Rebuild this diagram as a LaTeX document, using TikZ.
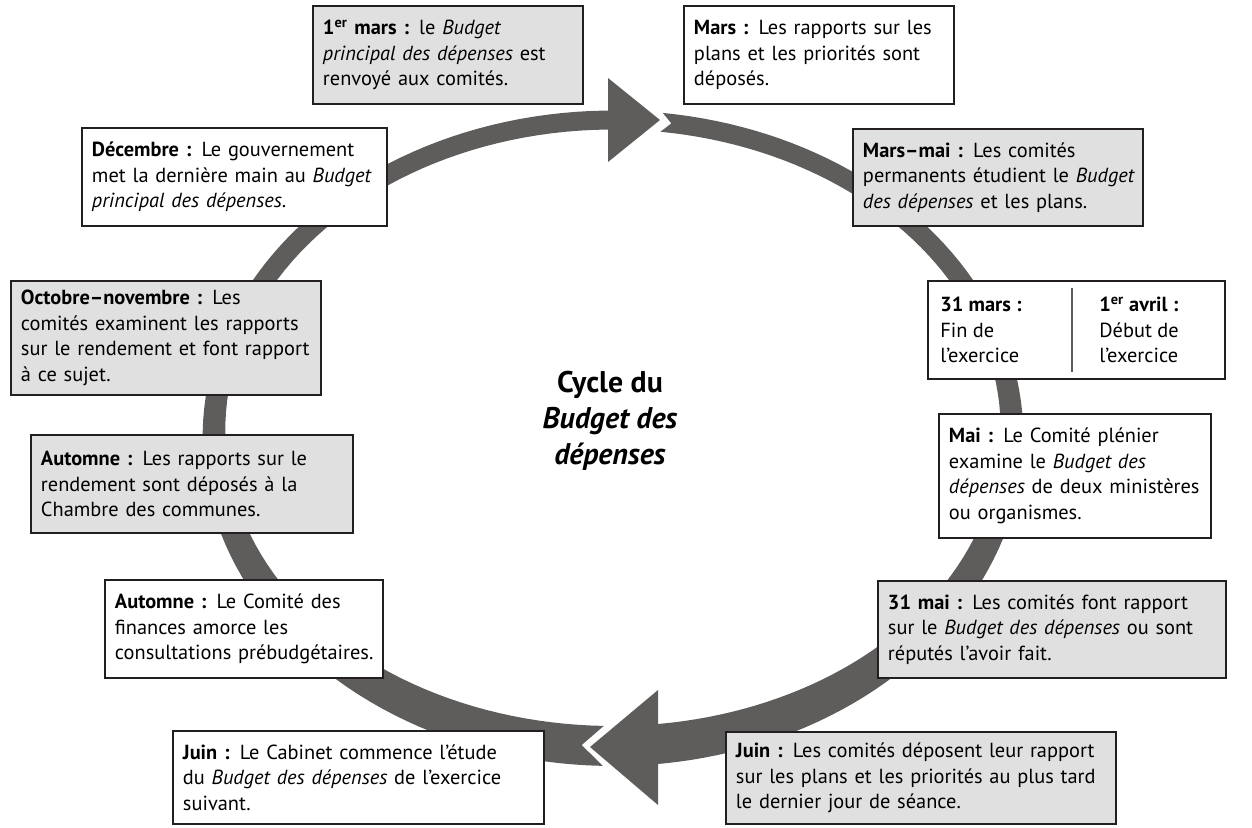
\documentclass[tikz,border=0pt]{standalone}
\usepackage{fontspec}
\setmainfont{PT Sans}
\definecolor{bandgray}{RGB}{94,93,91}
\definecolor{boxgray}{RGB}{224,224,224}
\definecolor{boxline}{RGB}{35,31,32}
\newcommand{\boxfont}{\fontsize{11.6}{14.5}\selectfont\hyphenpenalty=10000\exhyphenpenalty=10000}
\begin{document}
\begin{tikzpicture}[
    declare function={bw(\t)=0.38+0.42*((1-sin(\t))/2)^2.5;},
    evt/.style={draw=boxline, line width=1.1pt, fill=white, align=left, anchor=north west,
      inner xsep=0.2cm, inner ysep=0pt, text width=#1, font=\boxfont,
      execute at begin node={\rightskip=0pt plus 1fil minus 1.5cm}},
    evt gray/.style={evt=#1, fill=boxgray},
    col/.style={align=left, anchor=west, inner sep=0pt, font=\boxfont},
    divider/.style={draw=bandgray, line width=0.8pt}
  ]
  \useasboundingbox (0,0) rectangle (25.04,-16.54);

  \fill[bandgray] ({12.26+7.98*cos(81.6)}, {-8.66+6.26*sin(81.6)})
    -- plot[domain=83:-85, samples=90, variable=\t]
       ({12.26+(7.98+bw(\t)/2)*cos(\t)}, {-8.66+(6.26+bw(\t)/2)*sin(\t)})
    -- plot[domain=-85:83, samples=90, variable=\t]
       ({12.26+(7.98-bw(\t)/2)*cos(\t)}, {-8.66+(6.26-bw(\t)/2)*sin(\t)})
    -- cycle;
  \fill[bandgray] ({12.26+7.98*cos(-94.5)}, {-8.66+6.26*sin(-94.5)})
    -- plot[domain=-91.4:-271, samples=90, variable=\t]
       ({12.26+(7.98+bw(\t)/2)*cos(\t)}, {-8.66+(6.26+bw(\t)/2)*sin(\t)})
    -- plot[domain=-271:-91.4, samples=90, variable=\t]
       ({12.26+(7.98-bw(\t)/2)*cos(\t)}, {-8.66+(6.26-bw(\t)/2)*sin(\t)})
    -- cycle;
  \fill[bandgray] (12.16,-1.56) -- (13.20,-2.40) -- (12.16,-3.24) -- cycle;
  \fill[bandgray] (13.16,-13.80) -- (11.80,-14.94) -- (13.16,-16.10) -- cycle;

  \node[font=\fontsize{17}{20.5}\selectfont\bfseries, align=center] (title) at (12.20,-8.42)
    {Cycle du\\\textit{Budget des}\\\textit{dépenses}};

  \node[evt gray=5.00cm, minimum height=1.96cm] (mar1) at (6.24,-0.10)
    {\textbf{1\textsuperscript{er} mars :} le \textit{Budget}\\\textit{principal des dépenses} est\\renvoyé aux comités.};
  \node[evt=5.00cm, minimum height=1.96cm] (mars) at (13.66,-0.10)
    {\textbf{Mars :} Les rapports sur les\\plans et les priorités sont\\déposés.};
  \node[evt gray=5.40cm, minimum height=1.94cm] (marsmai) at (17.04,-2.56)
    {\textbf{Mars–mai :} Les comités\\permanents étudient le \textit{Budget}\\\textit{des dépenses} et les plans.};
  \node[evt=5.54cm, minimum height=1.96cm] (fy) at (18.54,-5.60) {};
  \node[col] (fyl) at ([xshift=0.26cm]fy.west)
    {\textbf{31 mars :}\\Fin de\\l’exercice};
  \node[col] (fyr) at ([xshift=3.44cm]fy.west)
    {\textbf{1\textsuperscript{er} avril :}\\Début de\\l’exercice};
  \draw[divider] ([xshift=-0.09cm,yshift=-0.15cm]fy.north) -- ([xshift=-0.09cm,yshift=0.15cm]fy.south);
  \node[evt=5.04cm, minimum height=2.48cm] (mai) at (18.76,-8.26)
    {\textbf{Mai :} Le Comité plénier\\examine le \textit{Budget des}\\\textit{dépenses} de deux ministères\\ou organismes.};
  \node[evt gray=6.56cm, minimum height=1.94cm] (mai31) at (17.54,-11.60)
    {\textbf{31 mai :} Les comités font rapport\\sur le \textit{Budget des dépenses} ou sont\\réputés l’avoir fait.};
  \node[evt gray=7.40cm, minimum height=1.84cm] (juinr) at (14.50,-14.62)
    {\textbf{Juin :} Les comités déposent leur rapport\\sur les plans et les priorités au plus tard\\le dernier jour de séance.};
  \node[evt=7.02cm, minimum height=1.86cm] (juinl) at (3.44,-14.60)
    {\textbf{Juin :} Le Cabinet commence l’étude\\du \textit{Budget des dépenses} de l’exercice\\suivant.};
  \node[evt=5.16cm, minimum height=1.96cm] (autw) at (2.08,-11.58)
    {\textbf{Automne :} Le Comité des\\finances amorce les\\consultations prébudgétaires.};
  \node[evt gray=6.04cm, minimum height=1.96cm] (autg) at (0.60,-8.68)
    {\textbf{Automne :} Les rapports sur le\\rendement sont déposés à la\\Chambre des communes.};
  \node[evt gray=5.80cm, minimum height=2.28cm] (octnov) at (0.20,-5.60)
    {\textbf{Octobre–novembre :} Les\\comités examinent les rapports\\sur le rendement et font rapport\\à ce sujet.};
  \node[evt=5.70cm, minimum height=1.96cm] (dec) at (1.62,-2.54)
    {\textbf{Décembre :} Le gouvernement\\met la dernière main au \textit{Budget}\\\textit{principal des dépenses}.};
\end{tikzpicture}
\end{document}
